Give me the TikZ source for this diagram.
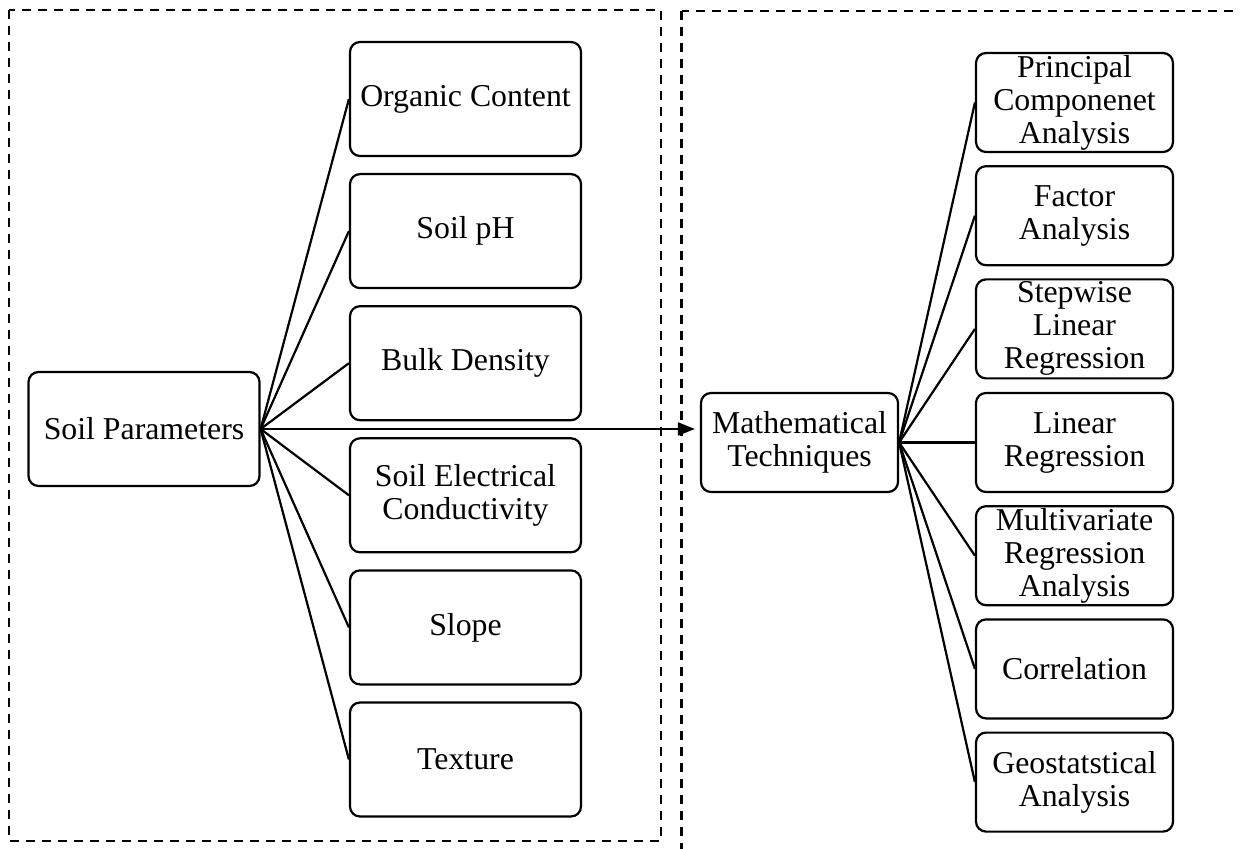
\documentclass[tikz,border=0pt]{standalone}
\usepackage{fontspec}
\setmainfont{Liberation Serif}
\usetikzlibrary{arrows.meta}
\begin{document}
\begin{tikzpicture}[x=0.5pt,y=-0.5pt,
  every node/.style={font=\fontsize{15.9}{16.5}\selectfont},
  rbox/.style={draw, line width=1.1pt, rounded corners=5pt, inner sep=0pt, align=center},
  lbox/.style={rbox, minimum width=115.5pt, minimum height=57pt},
  mbox/.style={rbox, minimum width=98.5pt, minimum height=49.5pt},
  conn/.style={line width=1.1pt},
  dbox/.style={line width=1.1pt, dash pattern=on 4.5pt off 3.5pt}]
\useasboundingbox (0,0) rectangle (1240,849);
\clip (0,0) rectangle (1240,849);
% dashed groups
\draw[dbox] (9,10) rectangle (661,841);
\draw[dbox] (681.5,11) rectangle (1300,900);
% left part
\node[lbox] (sp) at (144,429) {Soil Parameters};
\node[lbox] (oc) at (465.5,99) {Organic Content};
\node[lbox] (ph) at (465.5,231.1) {Soil pH};
\node[lbox] (bd) at (465.5,363.2) {Bulk Density};
\node[lbox] (ec) at (465.5,495.3) {Soil Electrical\\Conductivity};
\node[lbox] (sl) at (465.5,627.4) {Slope};
\node[lbox] (tx) at (465.5,759.5) {Texture};
\foreach \n in {oc,ph,bd,ec,sl,tx}{\draw[conn] (sp.east) -- (\n.west);}
% right part
\node[mbox] (mt) at (799.5,442.5) {Mathematical\\Techniques};
\node[mbox] (pca) at (1074.5,102.5) {Principal\\Componenet\\Analysis};
\node[mbox] (fa) at (1074.5,215.7) {Factor\\Analysis};
\node[mbox] (slr) at (1074.5,328.9) {Stepwise\\Linear\\Regression};
\node[mbox] (lr) at (1074.5,442.5) {Linear\\Regression};
\node[mbox] (mra) at (1074.5,555.7) {Multivariate\\Regression\\Analysis};
\node[mbox] (co) at (1074.5,668.9) {Correlation};
\node[mbox] (ga) at (1074.5,782.1) {Geostatstical\\Analysis};
\foreach \n in {pca,fa,slr,lr,mra,co,ga}{\draw[conn] (mt.east) -- (\n.west);}
% arrow
\draw[conn,-{Triangle[length=8.5pt,width=6.5pt]},shorten >=2.5pt] (sp.east) -- (sp.east -| mt.west);
\end{tikzpicture}
\end{document}
